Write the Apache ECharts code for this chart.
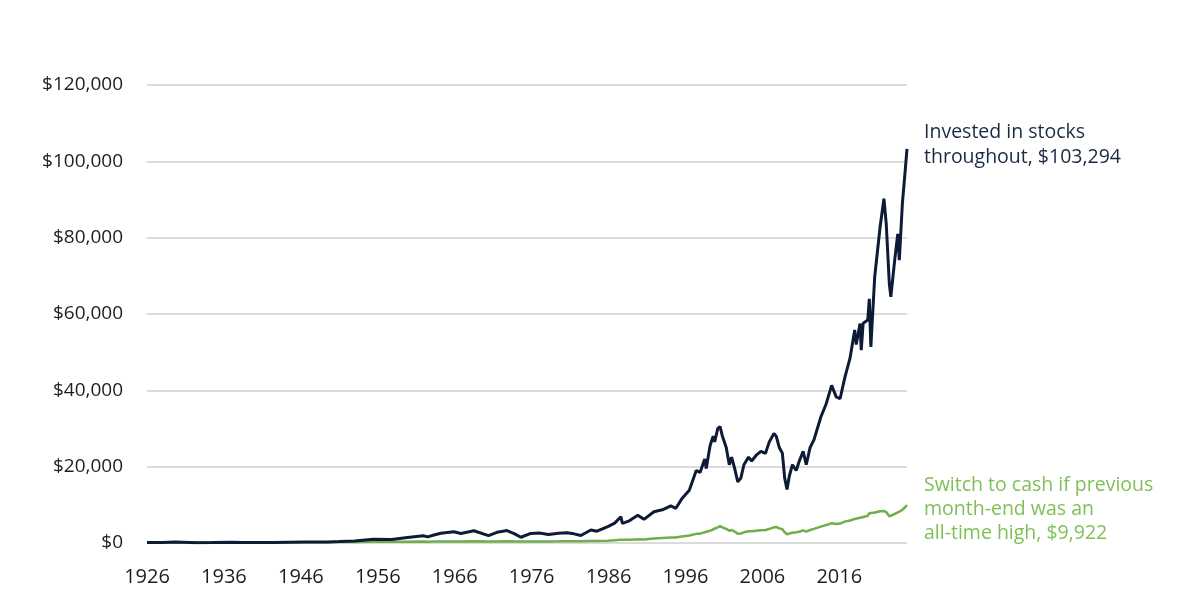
<!DOCTYPE html>
<html>
<head>
<meta charset="utf-8">
<title>Stocks vs switch to cash</title>
<script src="https://cdn.jsdelivr.net/npm/echarts@6/dist/echarts.min.js"></script>
<style>
  html, body { margin: 0; padding: 0; background: #fff; }
  #chart { width: 1200px; height: 616px; }
</style>
</head>
<body>
<div id="chart"></div>
<script>
// dates as decimal years
var dates = [
  1926.0, 1928.0, 1929.7, 1932.5, 1934.5, 1937.1, 1938.3, 1942.3, 1946.4, 1947.5,
  1949.5, 1951.0, 1953.0, 1955.4, 1957.8, 1959.6, 1961.9, 1962.5, 1963.3, 1964.2,
  1965.9, 1966.8, 1968.5, 1970.4, 1971.5, 1972.8, 1973.8, 1974.6, 1975.9, 1977.0,
  1978.2, 1979.5, 1980.6, 1981.5, 1982.4, 1983.7, 1984.5, 1985.9, 1986.8, 1987.6,
  1987.8, 1988.7, 1989.8, 1990.6, 1991.9, 1993.0, 1994.1, 1994.75, 1995.5, 1996.5,
  1997.4, 1997.9, 1998.5, 1998.7, 1999.2, 1999.6, 1999.8, 2000.2, 2000.5, 2000.8,
  2001.3, 2001.7, 2002.0, 2002.4, 2002.8, 2003.2, 2003.6, 2004.2, 2004.6, 2005.2,
  2005.8, 2006.4, 2006.9, 2007.5, 2007.8, 2008.2, 2008.6, 2008.9, 2009.2, 2009.5,
  2009.9, 2010.4, 2010.8, 2011.3, 2011.7, 2012.2, 2012.7, 2013.6, 2014.3, 2015.0,
  2015.6, 2016.1, 2016.7, 2017.4, 2018.0, 2018.2, 2018.7, 2018.85, 2019.1, 2019.7,
  2019.9, 2020.1, 2020.6, 2021.3, 2021.8, 2022.1, 2022.5, 2022.7, 2023.2, 2023.6,
  2023.8, 2024.2, 2024.5, 2024.8
];

// invested in stocks throughout
var stockValues = [
  100, 150, 280, 60, 110, 200, 130, 140, 280, 240,
  280, 380, 550, 970, 900, 1400, 1900, 1600, 2100, 2550,
  2950, 2500, 3200, 1950, 2800, 3250, 2400, 1500, 2500, 2600,
  2200, 2550, 2700, 2400, 1950, 3400, 3100, 4300, 5200, 6900,
  5150, 5800, 7300, 6200, 8200, 8700, 9700, 9100, 11500, 13800,
  19000, 18500, 22000, 19500, 25500, 28000, 26500, 30000, 30500, 28000,
  25000, 20500, 22500, 19500, 16000, 17000, 20500, 22500, 21500, 23000,
  24000, 23500, 26500, 28700, 28000, 25000, 23500, 17000, 14000, 17500,
  20500, 19000, 21500, 24000, 20500, 25000, 27000, 33000, 36500, 41300,
  38300, 37800, 43200, 48500, 55800, 52000, 57500, 50500, 57600, 58400,
  64000, 51400, 69700, 82800, 90200, 83700, 68000, 64500, 74100, 81000,
  74100, 89000, 96000, 103294
];

// switch to cash if previous month-end was an all-time high
var cashValues = [
  100, 140, 170, 110, 130, 150, 140, 150, 190, 190,
  210, 240, 260, 300, 310, 340, 370, 360, 380, 400,
  420, 410, 430, 400, 420, 440, 420, 380, 410, 420,
  410, 430, 450, 450, 440, 500, 520, 620, 700, 820,
  760, 820, 950, 920, 1150, 1300, 1450, 1450, 1700, 1950,
  2400, 2450, 2800, 2700, 3200, 3600, 3500, 4100, 4400, 4100,
  3700, 3200, 3400, 3000, 2400, 2500, 2800, 3100, 3050, 3200,
  3350, 3400, 3700, 4100, 4200, 3800, 3600, 2800, 2300, 2500,
  2700, 2800, 2950, 3300, 3000, 3400, 3700, 4300, 4700, 5200,
  5000, 5100, 5600, 5900, 6300, 6200, 6600, 6300, 6800, 7100,
  7800, 7600, 8000, 8300, 8400, 8100, 7000, 6900, 7600, 8000,
  7700, 8700, 9300, 9922
];

var xTickLabels = [1926, 1936, 1946, 1956, 1966, 1976, 1986, 1996, 2006, 2016];
var yTicks = [0, 20000, 40000, 60000, 80000, 100000, 120000];

var stockLabel = ['Invested in stocks', 'throughout, '];
var cashLabel = ['Switch to cash if previous', 'month-end was an', 'all-time high, '];

function money(v) {
    return '$' + Math.round(v).toString().replace(/\B(?=(\d{3})+(?!\d))/g, ',');
}
function pairs(ys) {
    var res = [];
    for (var i = 0; i < dates.length; i++) {
        res.push([dates[i], ys[i]]);
    }
    return res;
}

var myChart = echarts.init(document.getElementById('chart'));

var option = {
    backgroundColor: '#ffffff',
    animation: false,
    textStyle: { fontFamily: 'Open Sans' },
    grid: { left: 147, right: 293, top: 85, bottom: 73 },
    xAxis: {
        type: 'value',
        min: 1926,
        max: 2024.8,
        axisLine: { show: false },
        axisTick: { show: false },
        splitLine: { show: false },
        axisLabel: {
            customValues: xTickLabels,
            margin: 24,
            fontSize: 20,
            color: '#1e1e1e',
            formatter: function (v) { return String(v); }
        }
    },
    yAxis: {
        type: 'value',
        min: yTicks[0],
        max: yTicks[yTicks.length - 1],
        interval: 20000,
        axisLine: { show: false },
        axisTick: { show: false },
        splitLine: { lineStyle: { color: '#cfcfcf', width: 1.5 } },
        axisLabel: {
            margin: 24,
            fontSize: 19,
            color: '#1e1e1e',
            formatter: money
        }
    },
    series: [
        {
            name: 'Switch to cash',
            type: 'line',
            data: pairs(cashValues),
            showSymbol: false,
            lineStyle: { color: '#6fae48', width: 2.5 },
            endLabel: {
                show: true,
                distance: 17,
                color: '#7fbf55',
                fontSize: 19.5,
                lineHeight: 24,
                align: 'left',
                offset: [0, 4],
                formatter: function (p) {
                    return cashLabel.slice(0, 2).join('\n') + '\n' + cashLabel[2] + money(p.value[1]);
                }
            },
            z: 3
        },
        {
            name: 'Invested in stocks',
            type: 'line',
            data: pairs(stockValues),
            showSymbol: false,
            lineStyle: { color: '#0e1b36', width: 3 },
            endLabel: {
                show: true,
                distance: 17,
                color: '#1b2a44',
                fontSize: 19.5,
                lineHeight: 25,
                align: 'left',
                offset: [0, -4],
                formatter: function (p) {
                    return stockLabel[0] + '\n' + stockLabel[1] + money(p.value[1]);
                }
            },
            z: 4
        }
    ]
};

myChart.setOption(option);
window.addEventListener('resize', function () {
    myChart.resize();
});
</script>
</body>
</html>
